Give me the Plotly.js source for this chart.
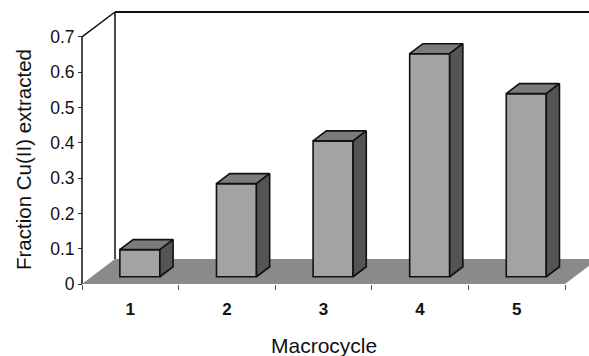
<!DOCTYPE html>
<html>
<head>
<meta charset="utf-8">
<script src="https://cdn.plot.ly/plotly-3.0.1.min.js"></script>
<style>html,body{margin:0;padding:0;background:#fff;}#chart{width:589px;height:356px;}</style>
</head>
<body>
<div id="chart"></div>
<script>
// ---- data ----
const categories = ['1', '2', '3', '4', '5'];
const catPos = [1, 2, 3, 4, 5];
const values = [0.077, 0.264, 0.385, 0.632, 0.519];
const yTickVals = [0, 0.1, 0.2, 0.3, 0.4, 0.5, 0.6, 0.7];
const yTickText = ['0', '0.1', '0.2', '0.3', '0.4', '0.5', '0.6', '0.7'];
const xBoundaries = [0.5, 1.5, 2.5, 3.5, 4.5, 5.5];
const xTitle = 'Macrocycle';
const yTitle = 'Fraction Cu(II) extracted';

// ---- 3D look (oblique projection, in axis units) ----
const DX = 0.3416, DY = 0.0708;   // full floor depth
const F1 = 0.29, F2 = 0.69;       // bar front / back depth fractions
const W = 0.414;                  // bar width
const YMAX = 0.7;
const xRange = [0.37578, 5.7484];
const yRange = [0, 0.7906];

const cFront = '#a3a3a3', cTop = '#7b7b7b', cSide = '#545454', cFloor = '#8a8a8a';
const font = 'Liberation Sans, Arial, sans-serif';

const traces = [];
// front faces
traces.push({
  type: 'bar', x: catPos.map(c => c + F1 * DX), y: values,
  base: values.map(() => F1 * DY), width: W,
  marker: {color: cFront, line: {color: '#111', width: 1.6}},
  hoverinfo: 'skip', showlegend: false, xaxis: 'x', yaxis: 'y'
});
const dd = F2 - F1;
catPos.forEach((c, i) => {
  const xl = c + F1 * DX - W / 2, xr = c + F1 * DX + W / 2;
  const b = F1 * DY, t = F1 * DY + values[i];
  // top face
  traces.push({
    type: 'scatter', mode: 'lines', fill: 'toself', fillcolor: cTop,
    x: [xl, xr, xr + dd * DX, xl + dd * DX, xl],
    y: [t, t, t + dd * DY, t + dd * DY, t],
    line: {color: '#111', width: 1.6}, hoverinfo: 'skip', showlegend: false,
    xaxis: 'x2', yaxis: 'y'
  });
  // side face
  traces.push({
    type: 'scatter', mode: 'lines', fill: 'toself', fillcolor: cSide,
    x: [xr, xr, xr + dd * DX, xr + dd * DX, xr],
    y: [b, t, t + dd * DY, b + dd * DY, b],
    line: {color: '#111', width: 1.6}, hoverinfo: 'skip', showlegend: false,
    xaxis: 'x2', yaxis: 'y'
  });
});

const x0 = xBoundaries[0], x1 = xBoundaries[xBoundaries.length - 1];
const shapes = [
  // floor
  {type: 'path', layer: 'below', xref: 'x', yref: 'y',
   path: `M ${x0} 0 L ${x1} 0 L ${x1 + DX} ${DY} L ${x0 + DX} ${DY} Z`,
   fillcolor: cFloor, line: {width: 0}},
  // front-left edge
  {type: 'line', layer: 'above', xref: 'x', yref: 'y', x0: x0, y0: 0, x1: x0, y1: YMAX,
   line: {color: '#111', width: 1.5}},
  // diagonal top-left
  {type: 'line', layer: 'above', xref: 'x', yref: 'y', x0: x0, y0: YMAX, x1: x0 + DX, y1: YMAX + DY,
   line: {color: '#111', width: 1.5}},
  // back wall top edge
  {type: 'line', layer: 'below', xref: 'x', yref: 'y', x0: x0 + DX, y0: YMAX + DY, x1: xRange[1] + 1, y1: YMAX + DY,
   line: {color: '#111', width: 2.2}},
  // back wall left vertical
  {type: 'line', layer: 'below', xref: 'x', yref: 'y', x0: x0 + DX, y0: DY, x1: x0 + DX, y1: YMAX + DY,
   line: {color: '#111', width: 1.5}}
];

const layout = {
  width: 589, height: 356,
  margin: {l: 70, r: 0, t: 5, b: 72, pad: 0},
  paper_bgcolor: '#fff', plot_bgcolor: '#fff',
  showlegend: false,
  font: {family: font, color: '#111'},
  xaxis: {
    range: xRange, tickmode: 'array', tickvals: xBoundaries, showticklabels: false,
    ticks: 'outside', ticklen: 5, tickwidth: 1, tickcolor: '#555',
    showgrid: false, zeroline: false, showline: false, fixedrange: true
  },
  xaxis2: {
    overlaying: 'x', anchor: 'y', side: 'bottom', range: xRange,
    tickmode: 'array', tickvals: catPos, ticktext: categories,
    ticks: 'outside', ticklen: 10, tickcolor: 'rgba(0,0,0,0)',
    tickfont: {family: font, size: 17, color: '#111', weight: 'bold'},
    showgrid: false, zeroline: false, showline: false, fixedrange: true
  },
  yaxis: {
    range: yRange, anchor: 'free', position: 12 / 519,
    tickmode: 'array', tickvals: yTickVals, ticktext: yTickText,
    ticks: 'outside', ticklen: 4, tickwidth: 1, tickcolor: '#333',
    tickfont: {family: font, size: 17.5, color: '#111'},
    showgrid: false, zeroline: false, showline: false, fixedrange: true
  },
  shapes: shapes,
  annotations: [
    {text: xTitle, xref: 'paper', yref: 'paper', x: (324 - 70) / 519, y: (284 - 345) / 279,
     xanchor: 'center', yanchor: 'middle', showarrow: false,
     font: {family: font, size: 21, color: '#111'}},
    {text: yTitle, xref: 'paper', yref: 'paper', x: (23 - 70) / 519, y: (284 - 160) / 279,
     xanchor: 'center', yanchor: 'middle', textangle: -90, showarrow: false,
     font: {family: font, size: 20.5, color: '#111'}}
  ]
};

Plotly.newPlot('chart', traces, layout, {staticPlot: true, displayModeBar: false});
</script>
</body>
</html>
